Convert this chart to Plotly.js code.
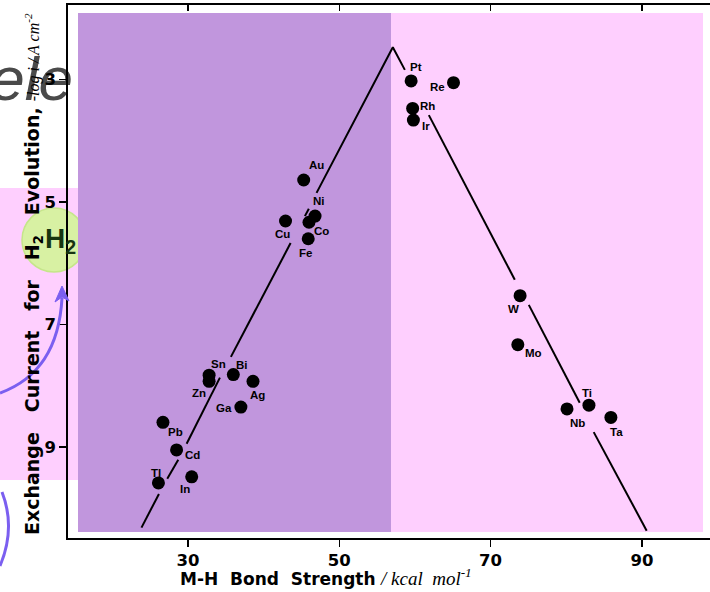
<!DOCTYPE html>
<html>
<head>
<meta charset="utf-8">
<script src="https://cdn.plot.ly/plotly-3.0.1.min.js"></script>
<style>html,body{margin:0;padding:0;background:#fff;}#chart{width:710px;height:592px;}</style>
</head>
<body>
<div id="chart"></div>
<script>
// ---- data ----
const metals = ['Au','Ni','Co','Cu','Fe','Pt','Re','Rh','Ir','W','Mo','Ti','Nb','Ta','Sn','Zn','Bi','Ag','Ga','Pb','Cd','Tl','In'];
const bondStrength = [45.3,46.8,46.0,42.9,45.9,59.5,65.1,59.7,59.8,73.9,73.6,83.0,80.1,85.9,32.8,32.8,36.0,38.6,37.0,26.7,28.5,26.1,30.5];
const logExchange = [4.64,5.23,5.33,5.31,5.60,3.02,3.05,3.47,3.66,6.53,7.33,8.32,8.38,8.52,7.83,7.93,7.82,7.93,8.35,8.60,9.05,9.59,9.49];
// volcano line (segments separated by null, as broken in the original)
const volcanoX = [23.86,26.17,null,27.27,28.72,null,29.83,34.23,null,35.68,43.57,null,45.46,45.98,null,47.0,57.08,58.67,null,61.84,73.20,null,75.05,81.78,null,83.63,90.63];
const volcanoY = [10.32,9.77,null,9.52,9.21,null,8.95,7.87,null,7.53,5.67,null,5.23,5.11,null,4.85,2.47,2.84,null,3.58,6.27,null,6.68,8.28,null,8.76,10.37];
const xTicks = [30,50,70,90];
const yTicks = [3,5,7,9];

// ---- label offsets (pixels, style only) ----
const labelDX = [13,4,13,-3,-3,5,-16,15,13,-7,16,-2,10,6,9,-10,9,4,-17,13,16,-2,-7];
const labelDY = [-15,-15,9,13,14,-14,4,-2,6,13,8,-12,14,15,-11,12,-10,14,1,10,5,-10,12];

const L = 68, T = 5, W = 642, H = 533;
const px = v => (v - L) / W;
const py = v => (T + H - v) / H;

const purple = '#C196DD';
const pink = '#FECFFE';
const labFont = {family:'Liberation Sans, Arial, sans-serif', size:11.5, color:'#000', weight:700};

const traces = [
  {x: volcanoX, y: volcanoY, mode:'lines', line:{color:'#000', width:2}, connectgaps:false, hoverinfo:'skip', showlegend:false},
  {x: bondStrength, y: logExchange, text: metals, mode:'markers', marker:{color:'#000', size:13}, showlegend:false},
  {x: [], y: [], xaxis:'x2', yaxis:'y', mode:'markers', showlegend:false}
];

const annotations = metals.map((m,i) => ({
  x: bondStrength[i], y: logExchange[i], xref:'x', yref:'y', text:m, showarrow:false,
  xshift: labelDX[i], yshift: -labelDY[i], font: labFont
}));

annotations.push({
  xref:'paper', yref:'paper', x: px(60), y: py(240), xanchor:'center', yanchor:'middle',
  text:'<b>H<sub>2</sub></b>', showarrow:false,
  font:{family:'Liberation Sans, Arial, sans-serif', size:28, color:'#173510'}
});
annotations.push({
  xref:'paper', yref:'paper', x: px(33), y: py(274), xanchor:'center', yanchor:'middle', textangle:-90,
  text:'<b>Exchange   Current   for   H<sub>2</sub>   Evolution,</b> <span style="font-family:Liberation Serif, serif;font-size:16px"><i>-log i / A cm<sup>-2</sup></i></span>',
  showarrow:false,
  font:{family:'DejaVu Sans, sans-serif', size:19, color:'#000'}
});
annotations.push({
  xref:'paper', yref:'paper', x: px(326), y: py(577), xanchor:'center', yanchor:'middle',
  text:'<b>M-H  Bond  Strength</b> <span style="font-family:Liberation Serif, serif;font-size:19px"><i>/ kcal  mol<sup>-1</sup></i></span>',
  showarrow:false,
  font:{family:'DejaVu Sans, sans-serif', size:17, color:'#000'}
});

const shapes = [
  {type:'rect', xref:'paper', yref:'paper', x0:px(-14), x1:px(76), y0:py(110), y1:py(34),
   fillcolor:'rgba(0,0,0,0)', line:{width:0}, layer:'below',
   label:{text:'ele', textposition:'middle right', padding:0,
          font:{family:'Liberation Sans, Arial, sans-serif', size:62, color:'#4a4a4a', style:'italic'}}},
  {type:'rect', xref:'paper', yref:'paper', x0:px(0), x1:px(78), y0:py(480), y1:py(188), fillcolor:pink, line:{width:0}, layer:'below'},
  {type:'circle', xref:'paper', yref:'paper', x0:px(22), x1:px(86), y0:py(272), y1:py(208), fillcolor:'#D8F1A3', line:{color:'#C5E68A', width:1.5}, layer:'below'},
  {type:'rect', xref:'paper', yref:'paper', x0:px(78), x1:px(391), y0:py(532), y1:py(13), fillcolor:purple, line:{width:0}, layer:'below'},
  {type:'rect', xref:'paper', yref:'paper', x0:px(391), x1:px(703), y0:py(532), y1:py(13), fillcolor:pink, line:{width:0}, layer:'below'},
  {type:'path', xref:'paper', yref:'paper',
   path:`M ${px(0)},${py(393)} Q ${px(58)},${py(372)} ${px(62)},${py(298)}`,
   line:{color:'#7B5FF0', width:3}},
  {type:'path', xref:'paper', yref:'paper',
   path:`M ${px(62)},${py(286)} L ${px(55)},${py(302)} L ${px(62)},${py(297)} L ${px(69)},${py(301)} Z`,
   fillcolor:'#7B5FF0', line:{color:'#7B5FF0', width:1}},
  {type:'path', xref:'paper', yref:'paper',
   path:`M ${px(2)},${py(492)} Q ${px(16)},${py(528)} ${px(0)},${py(566)}`,
   line:{color:'#7B5FF0', width:3}}
];

const tickFont = {family:'DejaVu Sans, sans-serif', size:16.5, color:'#000', weight:700};

const layout = {
  width:710, height:592,
  margin:{l:L, r:0, t:T, b:592-T-H, pad:0},
  paper_bgcolor:'#fff', plot_bgcolor:'rgba(0,0,0,0)',
  showlegend:false,
  xaxis:{range:[14.15,99.0], tickvals:xTicks, ticktext:xTicks.map(String), ticks:'outside', ticklen:7, tickwidth:1.5, tickcolor:'#000',
         showline:true, linecolor:'#000', linewidth:1.6, showgrid:false, zeroline:false, tickfont:tickFont, fixedrange:true},
  xaxis2:{range:[14.15,99.0], overlaying:'x', side:'top', anchor:'y', tickvals:xTicks, ticks:'inside', ticklen:6, tickwidth:1.5, tickcolor:'#000',
          showticklabels:false, showline:true, linecolor:'#000', linewidth:1.6, showgrid:false, zeroline:false},
  yaxis:{range:[10.49,1.78], tickvals:yTicks, ticktext:yTicks.map(String), ticks:'outside', ticklen:7, tickwidth:1.5, tickcolor:'#000',
         showline:true, linecolor:'#000', linewidth:1.6, showgrid:false, zeroline:false, tickfont:tickFont, fixedrange:true},
  shapes: shapes,
  annotations: annotations
};

Plotly.newPlot('chart', traces, layout, {staticPlot:true, displayModeBar:false});
</script>
</body>
</html>
